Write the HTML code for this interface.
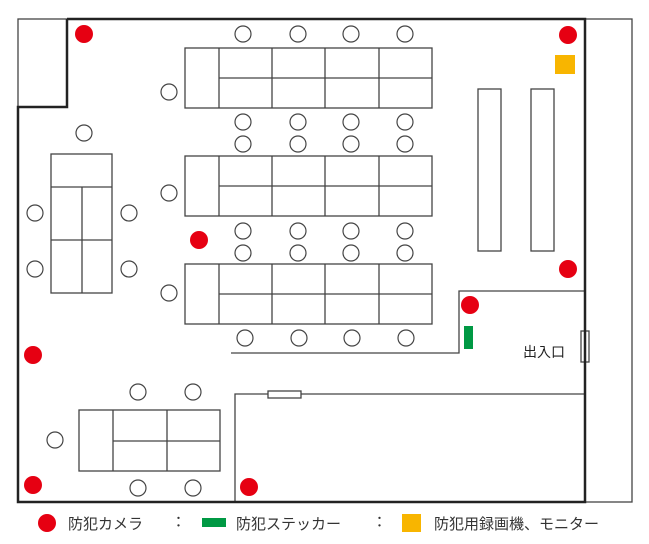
<!DOCTYPE html>
<html><head><meta charset="utf-8"><style>body{margin:0;background:#fff}svg{display:block}</style></head><body>
<svg width="649" height="544" viewBox="0 0 649 544" xmlns="http://www.w3.org/2000/svg" font-family="'Liberation Sans','Noto Sans CJK JP',sans-serif">
<g fill="none" stroke="#444" stroke-width="1.3">
<rect x="18" y="19" width="49" height="88"/>
<rect x="585" y="19" width="47" height="483"/>
<!-- desk groups -->
<g id="d1">
<rect x="185" y="48" width="247" height="60"/>
<line x1="219" y1="48" x2="219" y2="108"/><line x1="272" y1="48" x2="272" y2="108"/><line x1="325" y1="48" x2="325" y2="108"/><line x1="379" y1="48" x2="379" y2="108"/>
<line x1="219" y1="78" x2="432" y2="78"/>
</g>
<use href="#d1" y="108"/>
<use href="#d1" y="216"/>
<!-- left table -->
<rect x="51" y="154" width="61" height="139"/>
<line x1="51" y1="187" x2="112" y2="187"/><line x1="51" y1="240" x2="112" y2="240"/><line x1="82" y1="187" x2="82" y2="293"/>
<!-- bottom table -->
<rect x="79" y="410" width="141" height="61"/>
<line x1="113" y1="410" x2="113" y2="471"/><line x1="167" y1="410" x2="167" y2="471"/><line x1="113" y1="441" x2="220" y2="441"/>
<!-- shelves -->
<rect x="478" y="89" width="23" height="162"/>
<rect x="531" y="89" width="23" height="162"/>
<!-- partitions -->
<polyline points="585,291 459,291 459,353 231,353"/>
<polyline points="585,394 235,394 235,502"/>
<rect x="268" y="391" width="33" height="7" fill="#fff"/>
<rect x="581" y="331" width="8" height="31" fill="#fff"/>
<!-- chairs -->
<g stroke-width="1.2">
<circle cx="243" cy="34" r="8"/><circle cx="298" cy="34" r="8"/><circle cx="351" cy="34" r="8"/><circle cx="405" cy="34" r="8"/>
<circle cx="243" cy="122" r="8"/><circle cx="298" cy="122" r="8"/><circle cx="351" cy="122" r="8"/><circle cx="405" cy="122" r="8"/>
<circle cx="243" cy="144" r="8"/><circle cx="298" cy="144" r="8"/><circle cx="351" cy="144" r="8"/><circle cx="405" cy="144" r="8"/>
<circle cx="243" cy="231" r="8"/><circle cx="298" cy="231" r="8"/><circle cx="351" cy="231" r="8"/><circle cx="405" cy="231" r="8"/>
<circle cx="243" cy="253" r="8"/><circle cx="298" cy="253" r="8"/><circle cx="351" cy="253" r="8"/><circle cx="405" cy="253" r="8"/>
<circle cx="245" cy="338" r="8"/><circle cx="299" cy="338" r="8"/><circle cx="352" cy="338" r="8"/><circle cx="406" cy="338" r="8"/>
<circle cx="169" cy="92" r="8"/><circle cx="169" cy="193" r="8"/><circle cx="169" cy="293" r="8"/>
<circle cx="84" cy="133" r="8"/><circle cx="35" cy="213" r="8"/><circle cx="129" cy="213" r="8"/><circle cx="35" cy="269" r="8"/><circle cx="129" cy="269" r="8"/>
<circle cx="138" cy="392" r="8"/><circle cx="193" cy="392" r="8"/><circle cx="55" cy="440" r="8"/><circle cx="138" cy="488" r="8"/><circle cx="193" cy="488" r="8"/>
</g>
</g>
<polyline points="67,19 585,19 585,502 18,502 18,107 67,107 67,19" fill="none" stroke="#222" stroke-width="2.5"/>
<g fill="#e60012">
<circle cx="84" cy="34" r="9"/><circle cx="568" cy="35" r="9"/><circle cx="199" cy="240" r="9"/><circle cx="568" cy="269" r="9"/>
<circle cx="470" cy="305" r="9"/><circle cx="33" cy="355" r="9"/><circle cx="33" cy="485" r="9"/><circle cx="249" cy="487" r="9"/>
<circle cx="47" cy="523" r="9"/>
</g>
<rect x="555" y="55" width="20" height="19" fill="#f8b500"/>
<rect x="464" y="326" width="9" height="23" fill="#009944"/>
<text x="523" y="357" font-size="14" fill="#222">出入口</text>
<rect x="202" y="518" width="24" height="9" fill="#009944"/>
<rect x="402" y="514" width="19" height="18" fill="#f8b500"/>
<g font-size="15" fill="#333">
<text x="68" y="529">防犯カメラ</text>
<text x="171" y="527">：</text>
<text x="236" y="529">防犯ステッカー</text>
<text x="372" y="527">：</text>
<text x="434" y="529">防犯用録画機、モニター</text>
</g>
</svg>
</body></html>
